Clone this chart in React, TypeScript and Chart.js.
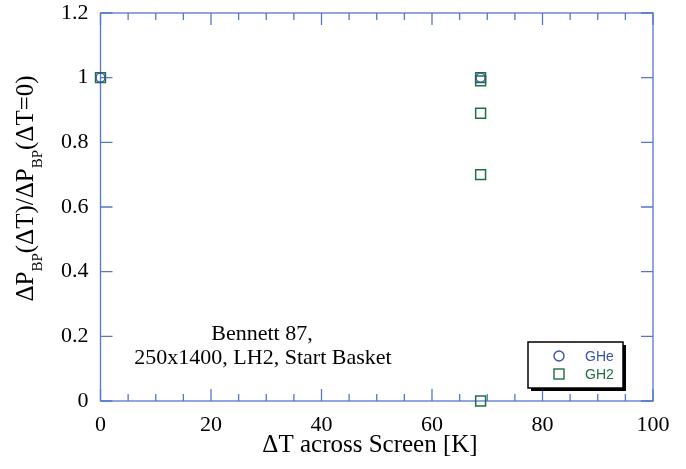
import React, { useEffect, useRef } from "react";
import { Chart, registerables } from "chart.js";

Chart.register(...registerables);

const heX = [0, 68.8];
const heY = [1, 1];
const h2X = [0, 68.8, 68.8, 68.8, 68.8, 68.8];
const h2Y = [1, 1, 0.99, 0.89, 0.7, 0];

const xMin = 0, xMax = 100, xStep = 20, xMinor = 5;
const yMin = 0, yMax = 1.2, yStep = 0.2;

const xTitle = "ΔT across Screen [K]";
const yTitleParts: [string, boolean][] = [
  ["ΔP", false], ["BP", true], ["(ΔT)/ΔP", false], ["BP", true], ["(ΔT=0)", false],
];
const noteLines = ["Bennett 87,", "250x1400, LH2, Start Basket"];
const seriesNames = ["GHe", "GH2"];

const AXIS = "#5577c9";
const BLUE = "#3652b0";
const GREEN = "#1f7040";
const SERIF = "'Liberation Serif', 'Times New Roman', serif";
const SANS = "'Liberation Sans', Arial, sans-serif";

const framePlugin = {
  id: "frame",
  beforeDatasetsDraw(chart: any) {
    const { ctx, chartArea: a, scales } = chart;
    const xs = scales.x, ys = scales.y;
    ctx.save();
    ctx.strokeStyle = AXIS;
    ctx.lineWidth = 1.3;
    ctx.strokeRect(a.left, a.top, a.right - a.left, a.bottom - a.top);
    ctx.beginPath();
    for (let v = xMin; v <= xMax + 1e-9; v += xMinor) {
      const px = xs.getPixelForValue(v);
      const major = Math.abs(v / xStep - Math.round(v / xStep)) < 1e-6;
      const len = major ? 12 : 7;
      ctx.moveTo(px, a.bottom); ctx.lineTo(px, a.bottom - len);
      ctx.moveTo(px, a.top); ctx.lineTo(px, a.top + len);
    }
    for (let v = yMin; v <= yMax + 1e-9; v += yStep) {
      const py = ys.getPixelForValue(v);
      ctx.moveTo(a.left, py); ctx.lineTo(a.left + 12, py);
      ctx.moveTo(a.right, py); ctx.lineTo(a.right - 12, py);
    }
    ctx.stroke();
    ctx.restore();
  },
  afterDraw(chart: any) {
    const { ctx } = chart;
    ctx.save();
    ctx.fillStyle = "#000";
    // x title
    ctx.font = `25px ${SERIF}`;
    ctx.textAlign = "center";
    ctx.textBaseline = "alphabetic";
    ctx.fillText(xTitle, 370, 452);
    // annotation
    ctx.font = `22px ${SERIF}`;
    ctx.fillText(noteLines[0], 262, 340);
    ctx.fillText(noteLines[1], 263, 364);
    // y title
    ctx.save();
    ctx.translate(33, 188.5);
    ctx.rotate(-Math.PI / 2);
    const mainF = `25px ${SERIF}`, subF = `15px ${SERIF}`;
    let total = 0;
    const widths = yTitleParts.map(([t, sub]) => {
      ctx.font = sub ? subF : mainF;
      const w = ctx.measureText(t).width;
      total += w;
      return w;
    });
    let x = -total / 2;
    ctx.textAlign = "left";
    yTitleParts.forEach(([t, sub], i) => {
      ctx.font = sub ? subF : mainF;
      ctx.fillText(t, x, sub ? 9 : 0);
      x += widths[i];
    });
    ctx.restore();
    // legend
    const bx = 528, by = 342, bw = 95, bh = 46;
    ctx.fillStyle = "#000";
    ctx.fillRect(bx + 3, by + 3, bw, bh);
    ctx.fillStyle = "#fff";
    ctx.fillRect(bx, by, bw, bh);
    ctx.strokeStyle = "#000";
    ctx.lineWidth = 1.5;
    ctx.strokeRect(bx, by, bw, bh);
    ctx.lineWidth = 1.4;
    ctx.strokeStyle = BLUE;
    ctx.beginPath();
    ctx.arc(559, 356, 5, 0, Math.PI * 2);
    ctx.stroke();
    ctx.strokeStyle = GREEN;
    ctx.strokeRect(554, 369, 10, 10);
    ctx.font = `14px ${SANS}`;
    ctx.textAlign = "left";
    ctx.textBaseline = "middle";
    ctx.fillStyle = BLUE;
    ctx.fillText(seriesNames[0], 585, 357);
    ctx.fillStyle = GREEN;
    ctx.fillText(seriesNames[1], 585, 375);
    ctx.restore();
  },
};

export default function App() {
  const ref = useRef<HTMLCanvasElement | null>(null);
  useEffect(() => {
    if (!ref.current) return;
    const chart = new Chart(ref.current, {
      type: "scatter",
      data: {
        datasets: [
          {
            label: seriesNames[0],
            data: heX.map((x, i) => ({ x, y: heY[i] })),
            pointStyle: "circle",
            pointRadius: 4.5,
            pointBorderWidth: 1.4,
            borderColor: BLUE,
            backgroundColor: "rgba(0,0,0,0)",
            clip: false,
          } as any,
          {
            label: seriesNames[1],
            data: h2X.map((x, i) => ({ x, y: h2Y[i] })),
            pointStyle: "rect",
            pointRadius: 7,
            pointBorderWidth: 1.5,
            borderColor: GREEN,
            backgroundColor: "rgba(0,0,0,0)",
            clip: false,
          } as any,
        ],
      },
      options: {
        animation: false,
        responsive: false,
        devicePixelRatio: 1,
        layout: { padding: { left: 0, right: 33, top: 13, bottom: 0 } },
        plugins: { legend: { display: false }, tooltip: { enabled: false } },
        scales: {
          x: {
            type: "linear",
            min: xMin,
            max: xMax,
            grid: { display: false, drawTicks: false },
            border: { display: false },
            ticks: { stepSize: xStep, color: "#000", font: { family: SERIF, size: 22 }, padding: 11, maxRotation: 0 },
            afterFit: (s: any) => { s.height = 68; s.paddingLeft = 0; s.paddingRight = 0; },
          },
          y: {
            type: "linear",
            min: yMin,
            max: yMax,
            grid: { display: false, drawTicks: false },
            border: { display: false },
            ticks: {
              stepSize: yStep,
              color: "#000",
              font: { family: SERIF, size: 22 },
              padding: 12,
              callback: (v: any) => String(Number(Number(v).toFixed(1))),
            },
            afterFit: (s: any) => { s.width = 100.5; s.paddingTop = 0; s.paddingBottom = 0; },
          },
        },
      },
      plugins: [framePlugin],
    });
    return () => chart.destroy();
  }, []);
  return (
    <div style={{ position: "fixed", left: 0, top: 0, width: 686, height: 469, background: "#fff" }}>
      <canvas ref={ref} width={686} height={469} style={{ width: 686, height: 469 }} />
    </div>
  );
}
